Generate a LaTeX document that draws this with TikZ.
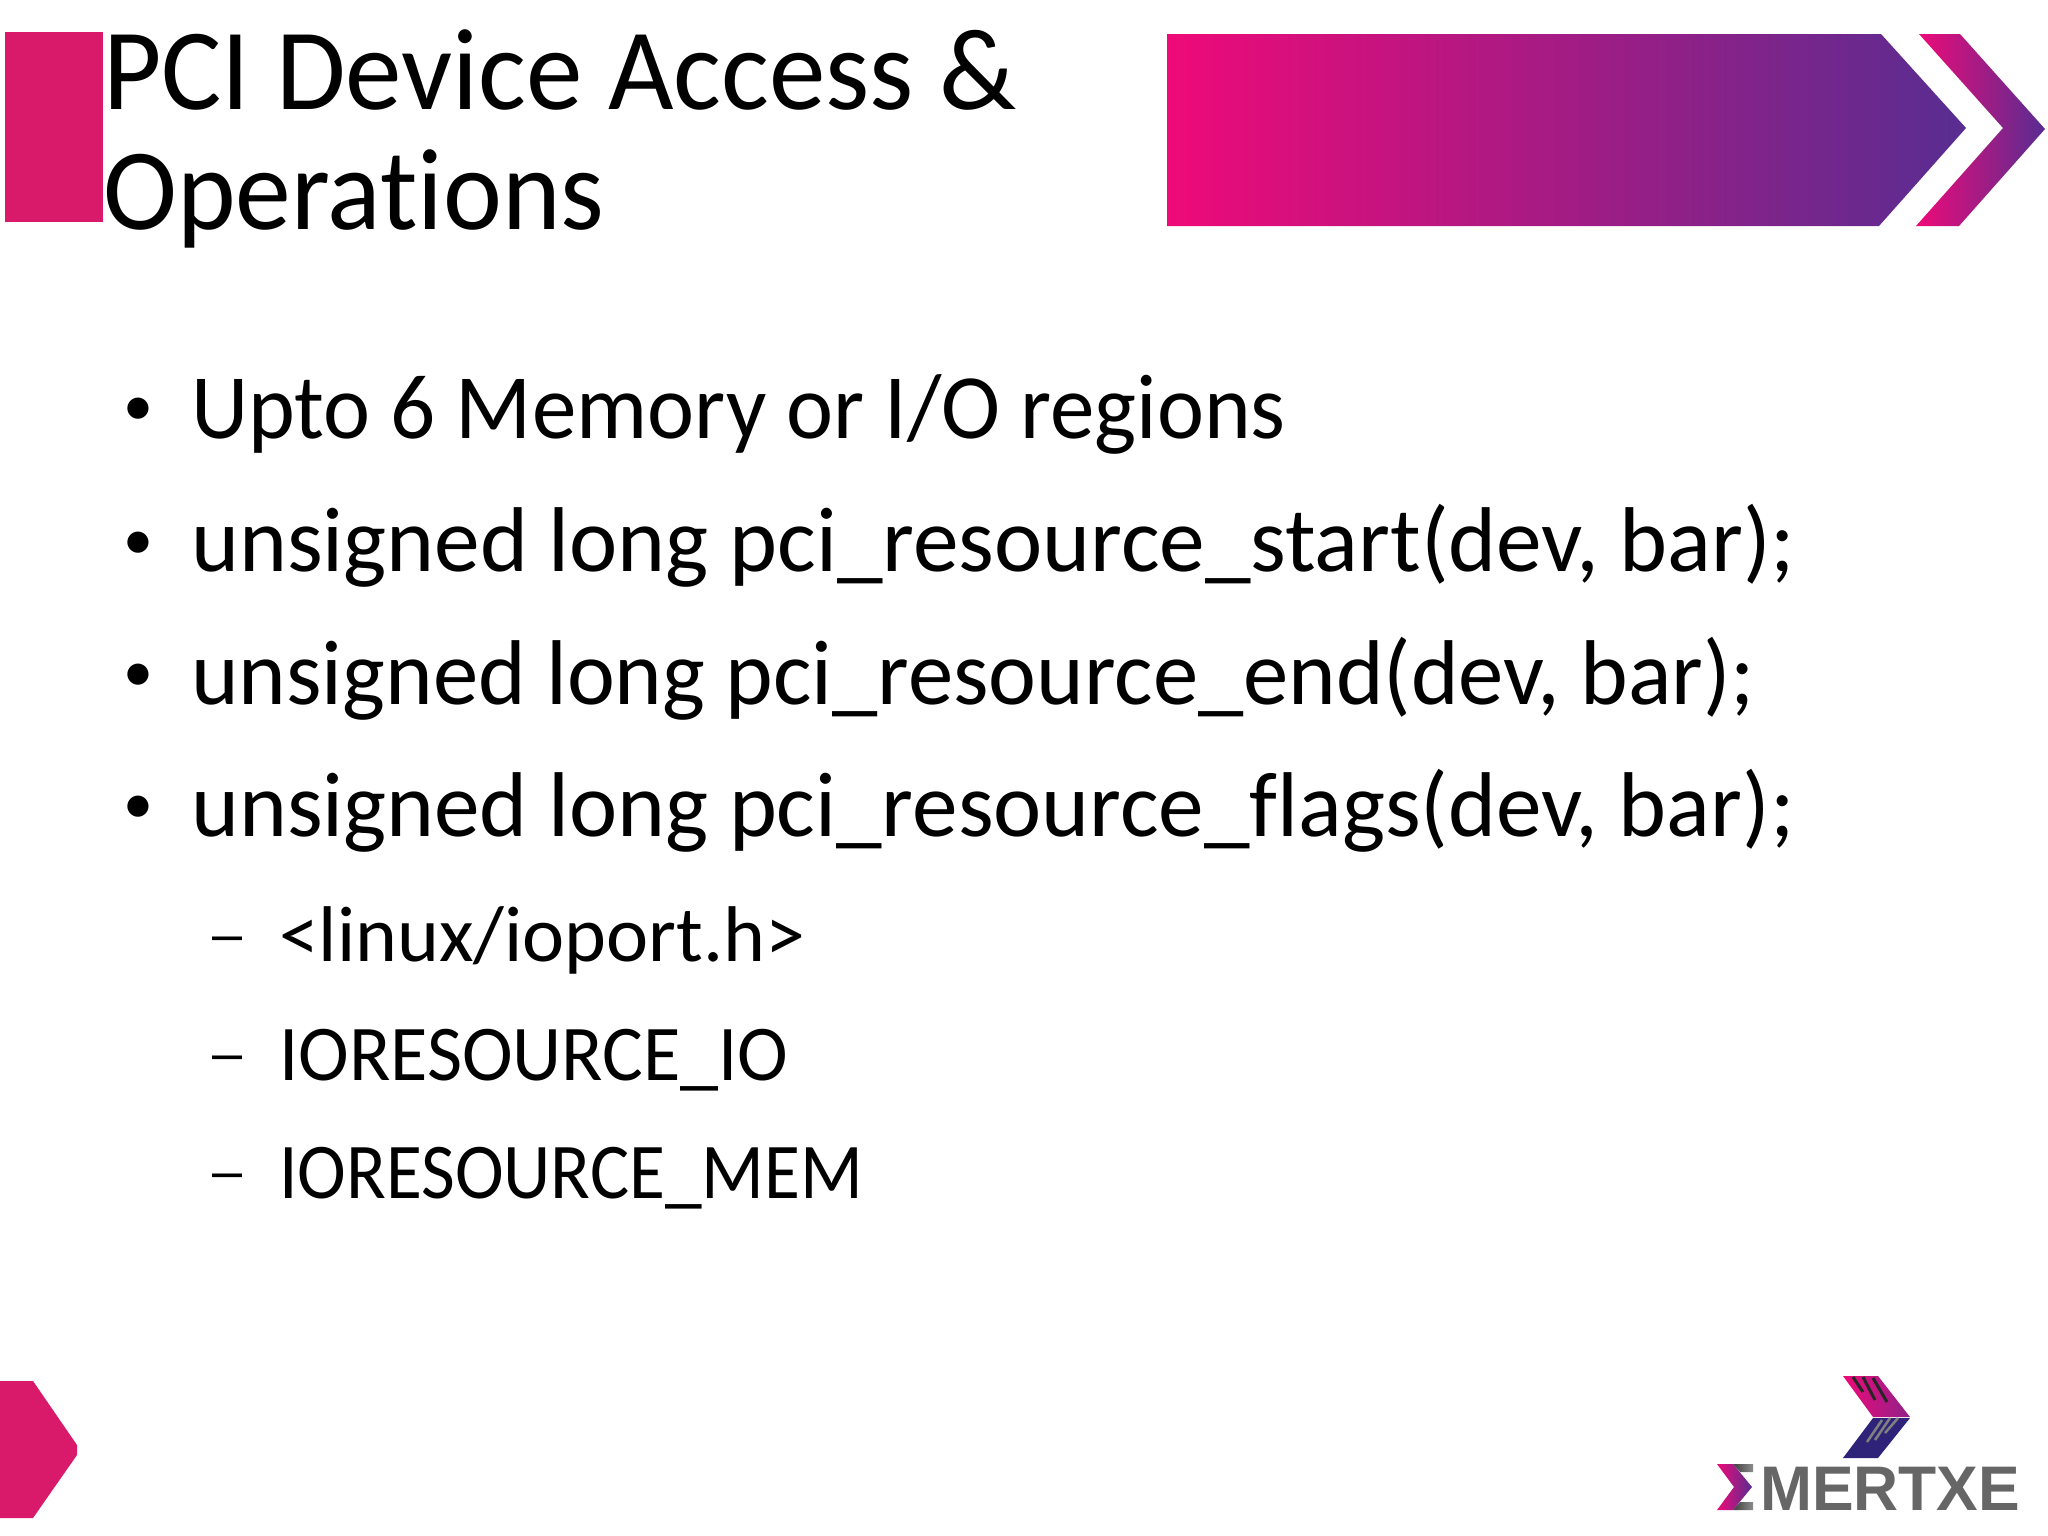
\documentclass[tikz,border=0pt]{standalone}
\usepackage{fontspec}
\setmainfont{Carlito}[Ligatures=NoCommon]
\newfontfamily\logofont{Liberation Sans}[FakeStretch=0.99]
\newfontfamily\markfont{Liberation Sans}
\newcommand{\fitw}[2]{{\addfontfeature{FakeStretch=#1}#2}}
\definecolor{slidepink}{HTML}{D91A6B}
\definecolor{gradpink}{HTML}{EE0A78}
\definecolor{gradmid}{HTML}{A81C86}
\definecolor{gradpurple}{HTML}{582D91}
\definecolor{logogrey}{HTML}{666666}
\definecolor{logoblue}{HTML}{2E2378}
\tikzset{
  titletext/.style={anchor=base west,inner sep=0pt,font=\fontsize{116}{116}\selectfont,text=black},
  bodytext/.style={anchor=base west,inner sep=0pt,font=\fontsize{92}{92}\selectfont,text=black},
  subtext/.style={anchor=base west,inner sep=0pt,font=\fontsize{79}{79}\selectfont,text=black},
  bulletmark/.style={anchor=base west,inner sep=0pt,font=\fontsize{60}{60}\selectfont,text=black},
  dashmark/.style={anchor=base west,inner sep=0pt,font=\markfont\fontsize{54}{54}\selectfont,text=black},
  gradfill/.style={left color=gradpink,middle color=gradmid,right color=gradpurple,draw=none},
  logotext/.style={anchor=base west,inner sep=0pt,font=\logofont\bfseries\fontsize{63}{63}\selectfont,text=logogrey},
  sigmabar/.style={left color=black!75,right color=black!45,draw=none},
}
\begin{document}
\begin{tikzpicture}[x=1pt,y=-1pt]
\useasboundingbox (0,0) rectangle (2048,1535);
\fill[white] (0,0) rectangle (2048,1535);
\fill[slidepink] (5,32) rectangle (103,222);
\path[gradfill] (1167,34) -- (1881,34) -- (1966,128) -- (1879,226) -- (1167,226) -- cycle;
\path[gradfill] (1919,34) -- (1960,34) -- (2045,129) -- (1959,226) -- (1916,226) -- (2003,128) -- cycle;
\fill[slidepink] (0,1381) -- (33,1381) -- (77,1445) -- (77,1455) -- (33,1518) -- (0,1518) -- cycle;
\node[titletext] (t1) at (103,109) {\fitw{0.975}{PCI Device Access \&}};
\node[titletext] (t2) at (103,229) {\fitw{0.962}{Operations}};
\node[bulletmark] (b1m) at (123.5,425) {•};
\node[bodytext] (b1) at (191,438) {\fitw{0.968}{Upto 6 Memory or I/O regions}};
\node[bulletmark] (b2m) at (123.5,559) {•};
\node[bodytext] (b2) at (191,571) {\fitw{0.993}{unsigned long pci\_resource\_start(dev, bar);}};
\node[bulletmark] (b3m) at (123.5,691) {•};
\node[bodytext] (b3) at (191,704) {\fitw{0.986}{unsigned long pci\_resource\_end(dev, bar);}};
\node[bulletmark] (b4m) at (123.5,823) {•};
\node[bodytext] (b4) at (191,836) {\fitw{0.992}{unsigned long pci\_resource\_flags(dev, bar);}};
\node[dashmark] (s1m) at (212,952) {–};
\node[subtext] (s1) at (279,961) {\fitw{1.01}{<linux/ioport.h>}};
\node[dashmark] (s2m) at (212,1071) {–};
\node[subtext] (s2) at (279,1080) {\fitw{0.967}{IORESOURCE\_IO}};
\node[dashmark] (s3m) at (212,1189) {–};
\node[subtext] (s3) at (279,1198) {\fitw{0.93}{IORESOURCE\_MEM}};
% logo
\path[left color=gradpink,right color=gradmid!70!gradpurple] (1843,1376) -- (1878,1376) -- (1910,1417) -- (1873,1417) -- cycle;
\fill[logoblue] (1873,1418) -- (1910,1418) -- (1878,1458) -- (1843,1458) -- cycle;
\draw[black!85,line width=3pt] (1853,1377) -- (1863,1392);
\draw[black!85,line width=3pt] (1863,1377) -- (1875,1400);
\draw[black!85,line width=3pt] (1873,1378) -- (1887,1402);
\draw[gray,line width=2.5pt] (1867,1442) -- (1882,1420);
\draw[gray,line width=2.5pt] (1875,1440) -- (1890,1418);
\draw[gray,line width=2.5pt] (1885,1433) -- (1898,1418);
\path[left color=gradpink,right color=gradpurple] (1717,1464) -- (1733,1464) -- (1752,1487) -- (1733,1510) -- (1717,1510) -- (1734,1487) -- cycle;
\path[sigmabar] (1733,1464) -- (1753,1464) -- (1753,1472) -- (1740,1472) -- cycle;
\path[sigmabar] (1733,1510) -- (1753,1510) -- (1753,1502) -- (1740,1502) -- cycle;
\node[logotext] (logo) at (1760,1510) {MERTXE};
\end{tikzpicture}
\end{document}
